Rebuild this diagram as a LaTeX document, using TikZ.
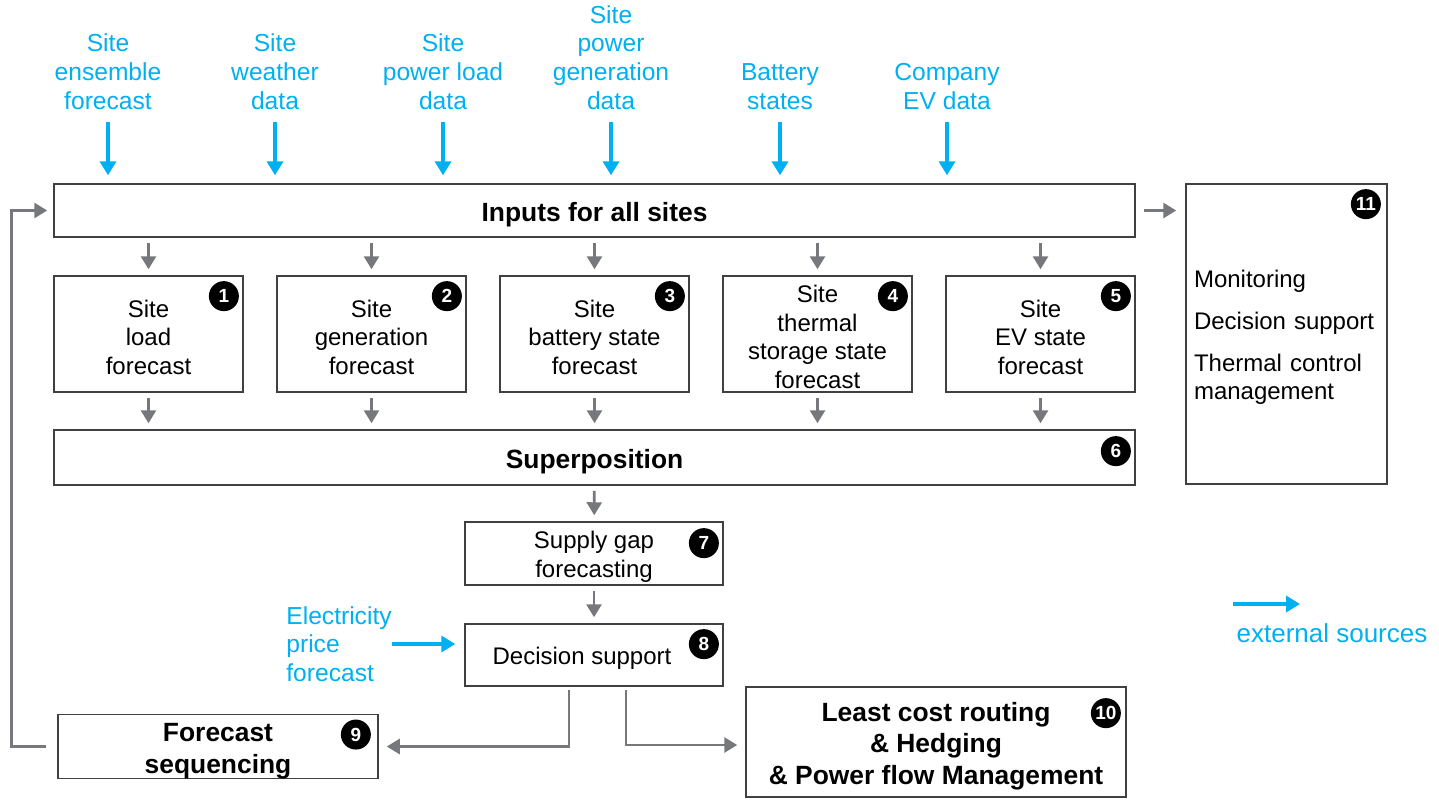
\documentclass[tikz,border=0pt]{standalone}
\usepackage{fontspec}
\setmainfont{Liberation Sans}
\usetikzlibrary{arrows.meta, positioning}
\definecolor{extblue}{HTML}{00B0F0}
\definecolor{flowgray}{HTML}{77787B}
\definecolor{boxgray}{HTML}{404040}
% taller first lines, so the text sits a bit low as in the slide
\newcommand{\bstrut}{\rule{0pt}{11.8pt}}
\newcommand{\hstrut}{\rule{0pt}{13.5pt}}

\begin{document}
\begin{tikzpicture}[x=0.5pt, y=-0.5pt,
    box/.style={draw=boxgray, line width=0.75pt, align=center, inner sep=0pt,
      font=\fontsize{12}{14.3}\selectfont},
    head/.style={box, font=\bfseries\fontsize{13.2}{15.8}\selectfont},
    badge/.style={circle, fill=black, text=white, minimum size=15pt, inner sep=0pt,
      font=\bfseries\fontsize{9.5}{9.5}\selectfont},
    src/.style={text=extblue, align=center, inner sep=0pt,
      font=\fontsize{12.3}{14.35}\selectfont},
    ext/.style={draw=extblue, line width=2pt, -{Triangle[width=8pt,length=7pt]}},
    flow/.style={draw=flowgray, line width=1.4pt, -{Triangle[width=7.5pt,length=6.5pt]},
      shorten <=2.5pt, shorten >=3pt}]
  \useasboundingbox (0,0) rectangle (1439,799);

  % external sources
  \node[src, anchor=south] (s1) at (108,110) {Site\\ensemble\\forecast};
  \node[src, anchor=south] (s2) at (275,110) {Site\\weather\\data};
  \node[src, anchor=south] (s3) at (443,110) {Site\\power load\\data};
  \node[src, anchor=south] (s4) at (611,110) {Site\\power\\generation\\data};
  \node[src, anchor=south] (s5) at (780,110) {Battery\\states};
  \node[src, anchor=south] (s6) at (947,110) {Company\\EV data};

  \node[head, minimum width=540.5pt, minimum height=26.5pt] (inputs) at (594.5,210.5) {\hstrut Inputs for all sites};

  % site forecasts
  \node[box, minimum width=94.5pt, minimum height=58pt] (f1) at (148.5,334) {\bstrut Site\\load\\forecast};
  \node[box, minimum width=94.5pt, minimum height=58pt] (f2) at (371.5,334) {\bstrut Site\\generation\\forecast};
  \node[box, minimum width=94.5pt, minimum height=58pt] (f3) at (594.5,334) {\bstrut Site\\battery state\\forecast};
  \node[box, minimum width=94.5pt, minimum height=58pt] (f4) at (817.5,334) {\bstrut Site\\thermal\\storage state\\forecast};
  \node[box, minimum width=94.5pt, minimum height=58pt] (f5) at (1040.5,334) {\bstrut Site\\EV state\\forecast};

  \node[head, minimum width=540.5pt, minimum height=27.5pt] (sup) at (594.5,457.5) {\hstrut Superposition};
  \node[box, align=left, text width=92.5pt, inner xsep=4pt, minimum height=150pt] (mon) at (1286.5,334)
    {\bstrut Monitoring\\[6.7pt]Decision support\\[6.7pt]Thermal control\\management};

  \node[box, minimum width=129pt, minimum height=31.5pt] (gap) at (594,553.5) {\bstrut Supply gap\\forecasting};
  \node[box, minimum width=129pt, minimum height=31pt] (dec) at (594,655) {\bstrut Decision support\hspace*{12pt}};
  \node[src, align=left, anchor=west] (price) at (286,644) {Electricity\\price\\forecast};
  \node[head, minimum width=160pt, minimum height=31.5pt] (seq) at (218,746.5) {\hstrut Forecast\\sequencing};
  \node[head, minimum width=190pt, minimum height=55pt] (lcr) at (936,742)
    {\hstrut Least cost routing\\\& Hedging\\\& Power flow Management};

  % numbers
  \node[badge, below left=5pt and 4.5pt of f1.north east] (b1) {1};
  \node[badge, below left=5pt and 4.5pt of f2.north east] (b2) {2};
  \node[badge, below left=5pt and 4.5pt of f3.north east] (b3) {3};
  \node[badge, below left=5pt and 4.5pt of f4.north east] (b4) {4};
  \node[badge, below left=5pt and 4.5pt of f5.north east] (b5) {5};
  \node[badge, below left=5.5pt and 4.5pt of sup.north east] (b6) {6};
  \node[badge, below left=5.5pt and 4.5pt of gap.north east] (b7) {7};
  \node[badge, below left=5pt and 4.5pt of dec.north east] (b8) {8};
  \node[badge, below left=5pt and 6pt of seq.north east] (b9) {9};
  \node[badge, below left=8pt and 5pt of lcr.north east] (b10) {10};
  \node[badge, below left=5pt and 5.5pt of mon.north east] (b11) {11};

  % legend
  \coordinate (legA) at (1233,604);
  \coordinate (legB) at (1300,604);
  \node[src, font=\fontsize{13}{15}\selectfont] (legend) at (1332,633) {external sources};

  % connectors
  \foreach \s in {s1,s2,s3,s4,s5,s6}
    \draw[ext, shorten <=6pt, shorten >=4pt] (\s.south) -- (\s.south |- inputs.north);
  \foreach \f in {f1,f2,f3,f4,f5} {
    \draw[flow] (\f |- inputs.south) -- (\f);
    \draw[flow] (\f) -- (\f |- sup.north);
  }
  \draw[flow, shorten <=4pt, shorten >=4.5pt] (inputs.east) -- (inputs.east -| mon.west);
  \draw[flow] (sup) -- (gap);
  \draw[flow] (gap) -- (dec);
  \draw[ext, shorten >=4.5pt] (price.east) -- (price.east -| dec.west);
  \draw[flow, shorten <=1.5pt, shorten >=4pt] ([xshift=-12.5pt]dec.south) |- (seq.east);
  \draw[flow, shorten <=1.5pt, shorten >=4pt] ([xshift=16pt]dec.south) |- ([yshift=-1.5pt]lcr.west);
  \draw[flow, shorten <=5.5pt] (seq.west) -- ++(-46,0) |- (inputs.west);
  \draw[ext] (legA) -- (legB);
\end{tikzpicture}
\end{document}
